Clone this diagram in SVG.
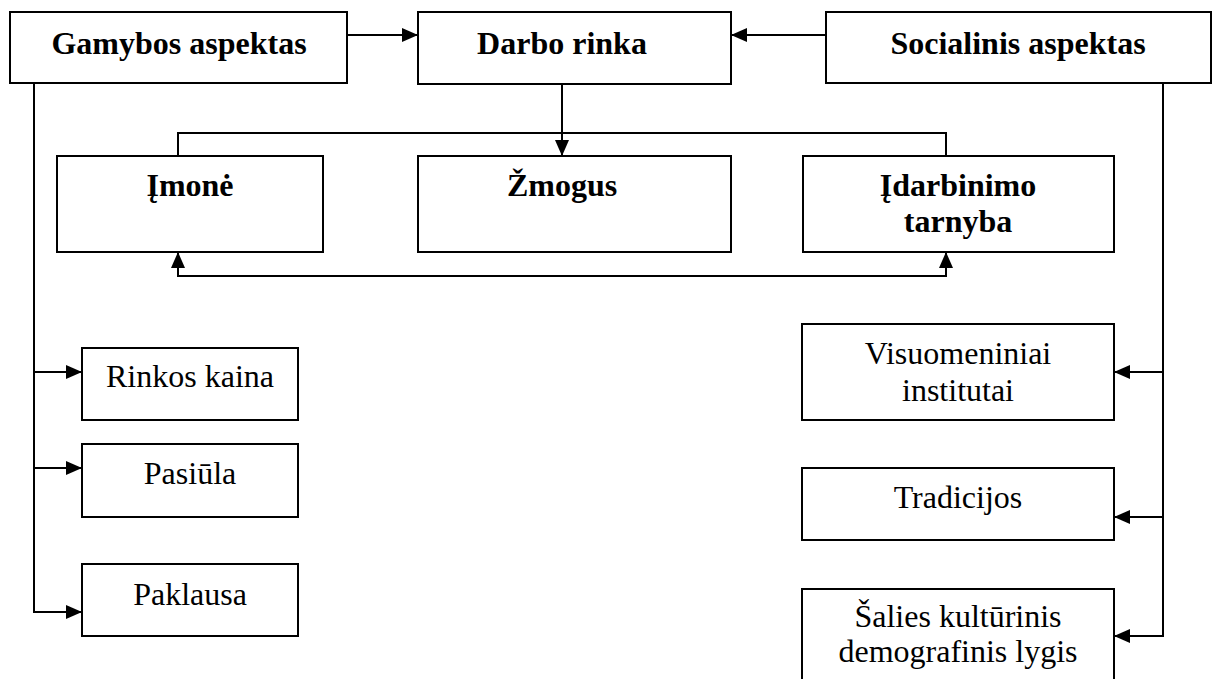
<svg xmlns="http://www.w3.org/2000/svg" width="1214" height="679" viewBox="0 0 1214 679">
<style>
.box{fill:#fff;stroke:#000;stroke-width:2}
.b{font-family:"Liberation Serif","Times New Roman",serif;font-weight:bold;font-size:32px;text-anchor:middle;fill:#000}
.r{font-family:"Liberation Serif","Times New Roman",serif;font-size:32px;text-anchor:middle;fill:#000}
.c{fill:none;stroke:#000;stroke-width:2}
</style>
<defs>
<marker id="ah" markerUnits="userSpaceOnUse" markerWidth="17" markerHeight="15" refX="16" refY="7" orient="auto">
<path d="M0,0 L16,7 L0,14 z" fill="#000"/>
</marker>
<marker id="ahs" markerUnits="userSpaceOnUse" markerWidth="17" markerHeight="15" refX="0" refY="7" orient="auto">
<path d="M16,0 L0,7 L16,14 z" fill="#000"/>
</marker>
</defs>
<g id="connectors">
<line class="c" x1="347" y1="35" x2="418" y2="35" marker-end="url(#ah)"/>
<line class="c" x1="826" y1="35" x2="731" y2="35" marker-end="url(#ah)"/>
<line class="c" x1="562" y1="84" x2="562" y2="156" marker-end="url(#ah)"/>
<polyline class="c" points="178,156 178,133 946,133 946,156"/>
<path class="c" d="M178,252 L178,276 L946,276 L946,252" marker-start="url(#ahs)" marker-end="url(#ah)"/>
<polyline class="c" points="34,83 34,612 82,612" marker-end="url(#ah)"/>
<line class="c" x1="34" y1="372" x2="82" y2="372" marker-end="url(#ah)"/>
<line class="c" x1="34" y1="468" x2="82" y2="468" marker-end="url(#ah)"/>
<polyline class="c" points="1163,83 1163,636 1114,636" marker-end="url(#ah)"/>
<line class="c" x1="1163" y1="372" x2="1114" y2="372" marker-end="url(#ah)"/>
<line class="c" x1="1163" y1="517" x2="1114" y2="517" marker-end="url(#ah)"/>
</g>
<g id="gamybos"><rect class="box" x="10" y="12" width="337" height="71"/><text class="b" x="179" y="54">Gamybos aspektas</text></g>
<g id="darbo"><rect class="box" x="418" y="12" width="313" height="72"/><text class="b" x="562" y="54">Darbo rinka</text></g>
<g id="socialinis"><rect class="box" x="826" y="12" width="385" height="71"/><text class="b" x="1018" y="54">Socialinis aspektas</text></g>
<g id="imone"><rect class="box" x="57" y="156" width="266" height="96"/><text class="b" x="190" y="196">Įmonė</text></g>
<g id="zmogus"><rect class="box" x="418" y="156" width="313" height="96"/><text class="b" x="562" y="196">Žmogus</text></g>
<g id="idarbinimo"><rect class="box" x="803" y="156" width="311" height="96"/><text class="b" x="958" y="196">Įdarbinimo</text><text class="b" x="958" y="232">tarnyba</text></g>
<g id="rinkos"><rect class="box" x="82" y="348" width="216" height="72"/><text class="r" x="190" y="387">Rinkos kaina</text></g>
<g id="pasiula"><rect class="box" x="82" y="444" width="216" height="73"/><text class="r" x="190" y="484">Pasiūla</text></g>
<g id="paklausa"><rect class="box" x="82" y="564" width="216" height="72"/><text class="r" x="190" y="605">Paklausa</text></g>
<g id="visuomeniniai"><rect class="box" x="802" y="324" width="312" height="96"/><text class="r" x="958" y="364">Visuomeniniai</text><text class="r" x="958" y="401">institutai</text></g>
<g id="tradicijos"><rect class="box" x="802" y="468" width="312" height="72"/><text class="r" x="958" y="508">Tradicijos</text></g>
<g id="salies"><rect class="box" x="802" y="589" width="312" height="110"/><text class="r" x="958" y="627">Šalies kultūrinis</text><text class="r" x="958" y="662">demografinis lygis</text></g>
</svg>
